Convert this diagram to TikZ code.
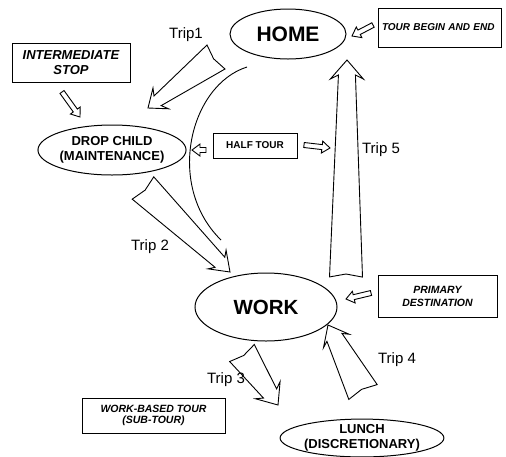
\documentclass[tikz,border=0pt]{standalone}
\usepackage{fontspec}
\setmainfont{Liberation Sans}
\usepackage{tikz}
\usetikzlibrary{shapes,calc}

% big trip arrow: tail, tip, tail/neck/barb half width, head length
\newcommand{\triparrow}[6]{%
  \draw[trip] ($(#1)!#3!90:(#2)$)
    -- ($(#2)!{#6-4pt}!(#1)!#4!-90:(#1)$)
    -- ($(#2)!#6!(#1)!#5!-90:(#1)$)
    -- (#2)
    -- ($(#2)!#6!(#1)!#5!90:(#1)$)
    -- ($(#2)!{#6-4pt}!(#1)!#4!90:(#1)$)
    -- ($(#1)!#3!-90:(#2)$)
    -- ($(#1)!3pt!(#2)$) -- cycle;}
% small hollow arrow from a note
\newcommand{\notearrow}[2]{%
  \draw[notearrow] ($(#1)!2.5pt!90:(#2)$)
    -- ($(#2)!8pt!(#1)!2.5pt!-90:(#1)$)
    -- ($(#2)!8pt!(#1)!6pt!-90:(#1)$)
    -- (#2)
    -- ($(#2)!8pt!(#1)!6pt!90:(#1)$)
    -- ($(#2)!8pt!(#1)!2.5pt!90:(#1)$)
    -- ($(#1)!2.5pt!-90:(#2)$) -- cycle;}

\begin{document}
\begin{tikzpicture}[x=1pt,y=-1pt]
\tikzstyle{place}=[ellipse, draw, line width=1pt, inner sep=0pt, align=center]
\tikzstyle{note}=[rectangle, draw, line width=1pt, inner sep=0pt, align=center]
\tikzstyle{trip}=[draw, line width=0.9pt, line join=miter]
\tikzstyle{notearrow}=[draw, line width=0.9pt]
\tikzstyle{triplabel}=[font=\fontsize{15}{18}\selectfont]
\useasboundingbox (0,0) rectangle (506,456);

\node[place, minimum width=116pt, minimum height=50pt,
  font=\bfseries\fontsize{21}{25}\selectfont] (home) at (288,34) {HOME};
\node[place, minimum width=132pt, minimum height=50pt,
  font=\bfseries\fontsize{13}{14.5}\selectfont] (drop) at (112,150) {DROP CHILD\\(MAINTENANCE)};
\node[place, minimum width=142pt, minimum height=68pt,
  font=\bfseries\fontsize{20.5}{24}\selectfont] (work) at (266,307) {WORK};
\node[place, minimum width=150pt, minimum height=36pt,
  font=\bfseries\fontsize{13}{15}\selectfont] (lunch) at (362,438) {LUNCH\\(DISCRETIONARY)};

\node[note, minimum width=123pt, minimum height=39pt, text width=115pt, align=left,
  font=\bfseries\itshape\fontsize{10}{12}\selectfont] (tour) at (439.5,27.5) {TOUR BEGIN AND END};
\node[note, minimum width=118pt, minimum height=39pt,
  font=\bfseries\itshape\fontsize{13}{15}\selectfont] (stop) at (71,62.5) {INTERMEDIATE\\STOP};
\node[note, minimum width=84pt, minimum height=25pt,
  font=\bfseries\fontsize{10}{12}\selectfont] (half) at (255,145.5) {HALF TOUR};
\node[note, minimum width=119pt, minimum height=42pt,
  font=\bfseries\itshape\fontsize{10.5}{13}\selectfont] (primary) at (437.5,296) {PRIMARY\\DESTINATION};
\node[note, minimum width=143pt, minimum height=35pt,
  font=\bfseries\itshape\fontsize{10.5}{11.5}\selectfont] (subtour) at (153.5,415.5) {WORK-BASED TOUR\\(SUB-TOUR)};

\node[triplabel] (trip1) at (186,35) {Trip1};
\node[triplabel] (trip2) at (150,247) {Trip 2};
\node[triplabel] (trip3) at (226,380) {Trip 3};
\node[triplabel] (trip4) at (397,360) {Trip 4};
\node[triplabel] (trip5) at (381,150) {Trip 5};

\coordinate (t1a) at (216,57);  \coordinate (t1b) at (148,108);
\coordinate (t2a) at (143,188); \coordinate (t2b) at (230,272);
\coordinate (t3a) at (242,353); \coordinate (t3b) at (278,405);
\coordinate (t4a) at (363,392); \coordinate (t4b) at (328,325);
\coordinate (t5a) at (346,277); \coordinate (t5b) at (347,60);
\triparrow{t1a}{t1b}{15pt}{6pt}{13pt}{16pt}
\triparrow{t2a}{t2b}{15.5pt}{7pt}{13pt}{18pt}
\triparrow{t3a}{t3b}{15pt}{8pt}{15pt}{18pt}
\triparrow{t4a}{t4b}{16pt}{8.5pt}{14.5pt}{18pt}
\triparrow{t5a}{t5b}{16.5pt}{8.5pt}{16.5pt}{19pt}

\coordinate (n1a) at (373,25);  \coordinate (n1b) at (352,36);
\coordinate (n2a) at (62,92);   \coordinate (n2b) at (80,117);
\coordinate (n3a) at (206,150); \coordinate (n3b) at (192,150);
\coordinate (n4a) at (304,145); \coordinate (n4b) at (330,148);
\coordinate (n5a) at (371,293); \coordinate (n5b) at (346,299);
\notearrow{n1a}{n1b}
\notearrow{n2a}{n2b}
\notearrow{n3a}{n3b}
\notearrow{n4a}{n4b}
\notearrow{n5a}{n5b}

\coordinate (hw1) at (247,67); \coordinate (hw2) at (221,240);
\draw[line width=0.9pt] (hw1) .. controls (190,85) and (165,185) .. (hw2);
\end{tikzpicture}
\end{document}
